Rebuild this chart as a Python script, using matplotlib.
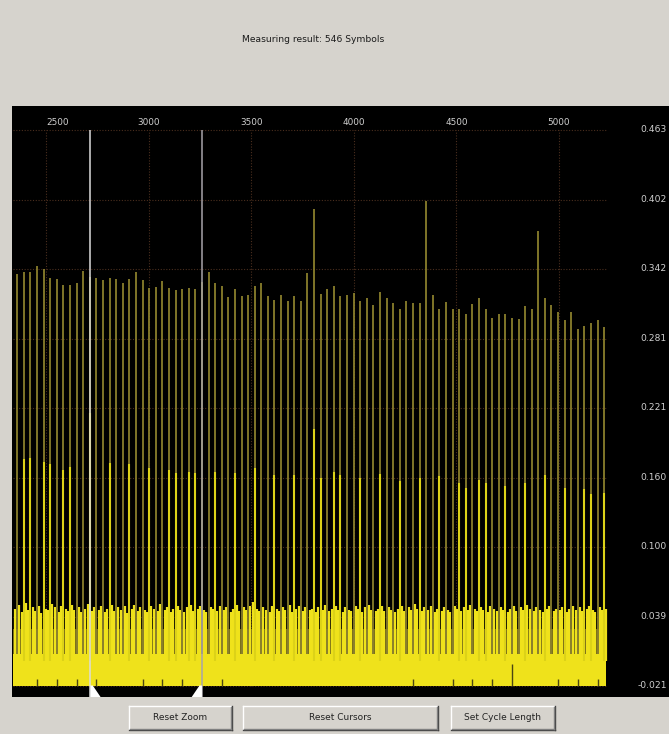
import numpy as np
import matplotlib.pyplot as plt
from matplotlib.patches import Rectangle, Polygon
from matplotlib.lines import Line2D

W, H = 669, 734

title = "Measuring result: 546 Symbols"

# symbol clock (sample units)
cycle_start = 2360.0
cycle_len = 32.14
n_symbols = 90

# peak value of every symbol
peak_height = [
    0.337, 0.339, 0.339, 0.344, 0.342, 0.334, 0.333, 0.328, 0.328, 0.329,
    0.340, 0.335, 0.334, 0.332, 0.334, 0.333, 0.329, 0.333, 0.339, 0.332,
    0.325, 0.326, 0.331, 0.325, 0.323, 0.324, 0.325, 0.324, 0.330, 0.339,
    0.329, 0.327, 0.317, 0.324, 0.318, 0.319, 0.327, 0.329, 0.318, 0.315,
    0.319, 0.314, 0.318, 0.314, 0.338, 0.394, 0.320, 0.324, 0.327, 0.318,
    0.319, 0.321, 0.314, 0.316, 0.310, 0.322, 0.316, 0.312, 0.307, 0.314,
    0.312, 0.312, 0.401, 0.319, 0.307, 0.313, 0.307, 0.307, 0.302, 0.311,
    0.316, 0.307, 0.299, 0.302, 0.302, 0.299, 0.298, 0.309, 0.307, 0.375,
    0.316, 0.310, 0.304, 0.297, 0.304, 0.289, 0.292, 0.295, 0.297, 0.291,
]

# secondary samples next to the symbol peaks
mid_index = [1, 2, 4, 5, 7, 8, 11, 14, 17, 20, 23, 24, 26, 27,
             30, 33, 36, 39, 42, 45, 46, 48, 49, 52, 55, 58,
             61, 64, 67, 68, 70, 71, 74, 77, 80, 83, 86, 87, 89]
mid_height = [0.176, 0.177, 0.174, 0.172, 0.167, 0.169, 0.216, 0.173, 0.172, 0.168,
              0.167, 0.164, 0.165, 0.164,
              0.165, 0.164, 0.168, 0.162, 0.162, 0.202, 0.160, 0.165, 0.162, 0.160,
              0.163, 0.157,
              0.160, 0.161, 0.155, 0.151, 0.158, 0.155, 0.153, 0.155, 0.162, 0.151,
              0.150, 0.146, 0.147]

# noise floor, two samples per symbol gap
floor_height = [
    0.046, 0.049, 0.043, 0.051, 0.045, 0.047, 0.044, 0.048, 0.042, 0.046,
    0.045, 0.050, 0.047, 0.043, 0.048, 0.046, 0.044, 0.049, 0.045, 0.047,
    0.043, 0.046, 0.050, 0.044, 0.047, 0.045, 0.048, 0.043, 0.046, 0.049,
    0.044, 0.047, 0.045, 0.048, 0.042, 0.046, 0.049, 0.044, 0.047, 0.045,
    0.043, 0.048, 0.046, 0.044, 0.050, 0.045, 0.047, 0.043, 0.046, 0.048,
    0.045, 0.043, 0.047, 0.049, 0.044, 0.046, 0.048, 0.045, 0.043, 0.047,
    0.046, 0.044, 0.048, 0.045, 0.047, 0.043, 0.046, 0.049, 0.044, 0.047,
    0.045, 0.048, 0.052, 0.046, 0.044, 0.047, 0.045, 0.043, 0.048, 0.046,
    0.044, 0.047, 0.045, 0.049, 0.043, 0.046, 0.048, 0.044, 0.047, 0.045,
    0.046, 0.043, 0.047, 0.045, 0.049, 0.044, 0.046, 0.048, 0.045, 0.043,
    0.047, 0.045, 0.044, 0.048, 0.046, 0.043, 0.047, 0.049, 0.045, 0.044,
    0.046, 0.048, 0.044, 0.047, 0.045, 0.043, 0.046, 0.048, 0.044, 0.047,
    0.045, 0.050, 0.046, 0.044, 0.047, 0.045, 0.048, 0.043, 0.046, 0.044,
    0.047, 0.045, 0.043, 0.048, 0.046, 0.044, 0.047, 0.045, 0.049, 0.046,
    0.044, 0.047, 0.045, 0.043, 0.048, 0.046, 0.044, 0.047, 0.045, 0.043,
    0.046, 0.048, 0.044, 0.047, 0.045, 0.049, 0.046, 0.044, 0.047, 0.045,
    0.043, 0.046, 0.048, 0.044, 0.046, 0.045, 0.047, 0.043, 0.046, 0.048,
    0.045, 0.047, 0.044, 0.046, 0.048, 0.045, 0.043, 0.047, 0.045, 0.046,
]

# symbol markers along the baseline
mark_index = [3, 6, 9, 12, 19, 22, 25, 31, 60, 66, 69, 72, 75, 82, 85, 88]
mark_top = [-0.015, -0.015, -0.015, -0.015, -0.015, -0.015, -0.015, -0.015,
            -0.015, -0.015, -0.015, -0.015, -0.002, -0.015, -0.015, -0.015]

cursors = [2716, 3260]
cursor_colors = ["#dcdcdc", "#a8a4aa"]

xticks = [2500, 3000, 3500, 4000, 4500, 5000]
yticks = [0.463, 0.402, 0.342, 0.281, 0.221, 0.160, 0.100, 0.039, -0.021]

buttons = ["Reset Zoom", "Reset Cursors", "Set Cycle Length"]

bg = "#d6d3cd"
yellow = "#efe21b"
olive = "#8f842e"
olive_dark = "#6e6419"
bright = "#dcd218"
grid_col = "#4a2e1e"

fig = plt.figure(figsize=(W / 100, H / 100), dpi=100)
fig.patch.set_facecolor(bg)

ax = fig.add_axes([12 / W, 1 - 697 / H, 657 / W, 591 / H])
ax.set_facecolor("black")
for s in ax.spines.values():
    s.set_visible(False)
ax.set_xticks([])
ax.set_yticks([])
ax.set_xlim(2334.3, 5536.0)
ax.set_ylim(-0.031, 0.4835)

x0, x1 = 2339, 5229
base = yticks[-1]

sym_x = cycle_start + cycle_len * np.arange(n_symbols)
floor_x = np.ravel(np.column_stack([sym_x - cycle_len / 3, sym_x + cycle_len / 3]))

# grid
ax.hlines(yticks, x0, x1, colors=grid_col, linestyles=(0, (1, 1.5)), lw=0.8, zorder=1)
ax.vlines(xticks, base, yticks[0], colors=grid_col, linestyles=(0, (1, 1.5)), lw=0.8, zorder=1)

# noise floor
ax.fill_between([x0, x1], base, 0.006, color=yellow, lw=0, zorder=2)
ax.fill_between([x0, x1], 0.006, 0.028, color=olive_dark, lw=0, zorder=2)
ax.vlines(floor_x, 0.0, floor_height, colors=yellow, lw=1.6, zorder=3)

# symbol peaks
ax.vlines(sym_x, 0.006, peak_height, colors=olive, lw=1.25, zorder=4)
ax.vlines(sym_x[mid_index], 0.0, mid_height, colors=bright, lw=1.5, zorder=5)
ax.vlines(sym_x[mark_index], base, mark_top, colors="#4a4412", lw=1.0, zorder=5)

# cursors
bottom = ax.get_ylim()[0]
for c, col, side in zip(cursors, cursor_colors, [1, -1]):
    ax.vlines(c, bottom, yticks[0], colors=col, lw=1.1, zorder=8)
    tri = Polygon([(c, base), (c, bottom), (c + side * 50, bottom), (c + side * 12, base)],
                  closed=True, fc="white", ec="none", zorder=8)
    ax.add_patch(tri)

# axis labels inside the black panel
for v in yticks:
    ax.text(5526, v, f"{v:.3f}", ha="right", va="center", color="#cfcfcf",
            fontsize=6.6, zorder=9)
for v in xticks:
    ax.text(v, 0.4695, str(v), ha="left" if v == xticks[0] else "center",
            va="center", color="#cfcfcf", fontsize=6.4, zorder=9)

fig.text(313 / W, 1 - 39 / H, title, ha="center", va="center", fontsize=6.6, color="#1a1a1a")

# buttons
spans = [(129, 232), (243, 438), (451, 555)]
top, bot = 706, 730
for label, (bx0, bx1) in zip(buttons, spans):
    fig.add_artist(Rectangle((bx0 / W, 1 - bot / H), (bx1 - bx0) / W, (bot - top) / H,
                             transform=fig.transFigure, fc=bg, ec="none"))
    def seg(xa, ya, xb, yb, col):
        fig.add_artist(Line2D([xa / W, xb / W], [1 - ya / H, 1 - yb / H],
                              transform=fig.transFigure, color=col, lw=1.0))
    seg(bx0, top, bx1, top, "white")
    seg(bx0, top, bx0, bot, "white")
    seg(bx0, bot, bx1, bot, "#404040")
    seg(bx1, top, bx1, bot, "#404040")
    seg(bx0 + 1, bot - 1, bx1 - 1, bot - 1, "#808080")
    seg(bx1 - 1, top + 1, bx1 - 1, bot - 1, "#808080")
    fig.text((bx0 + bx1) / 2 / W, 1 - (top + bot) / 2 / H, label, ha="center", va="center",
             fontsize=6.5, color="#222222")

fig.savefig("out.png", dpi=100, facecolor=bg)
